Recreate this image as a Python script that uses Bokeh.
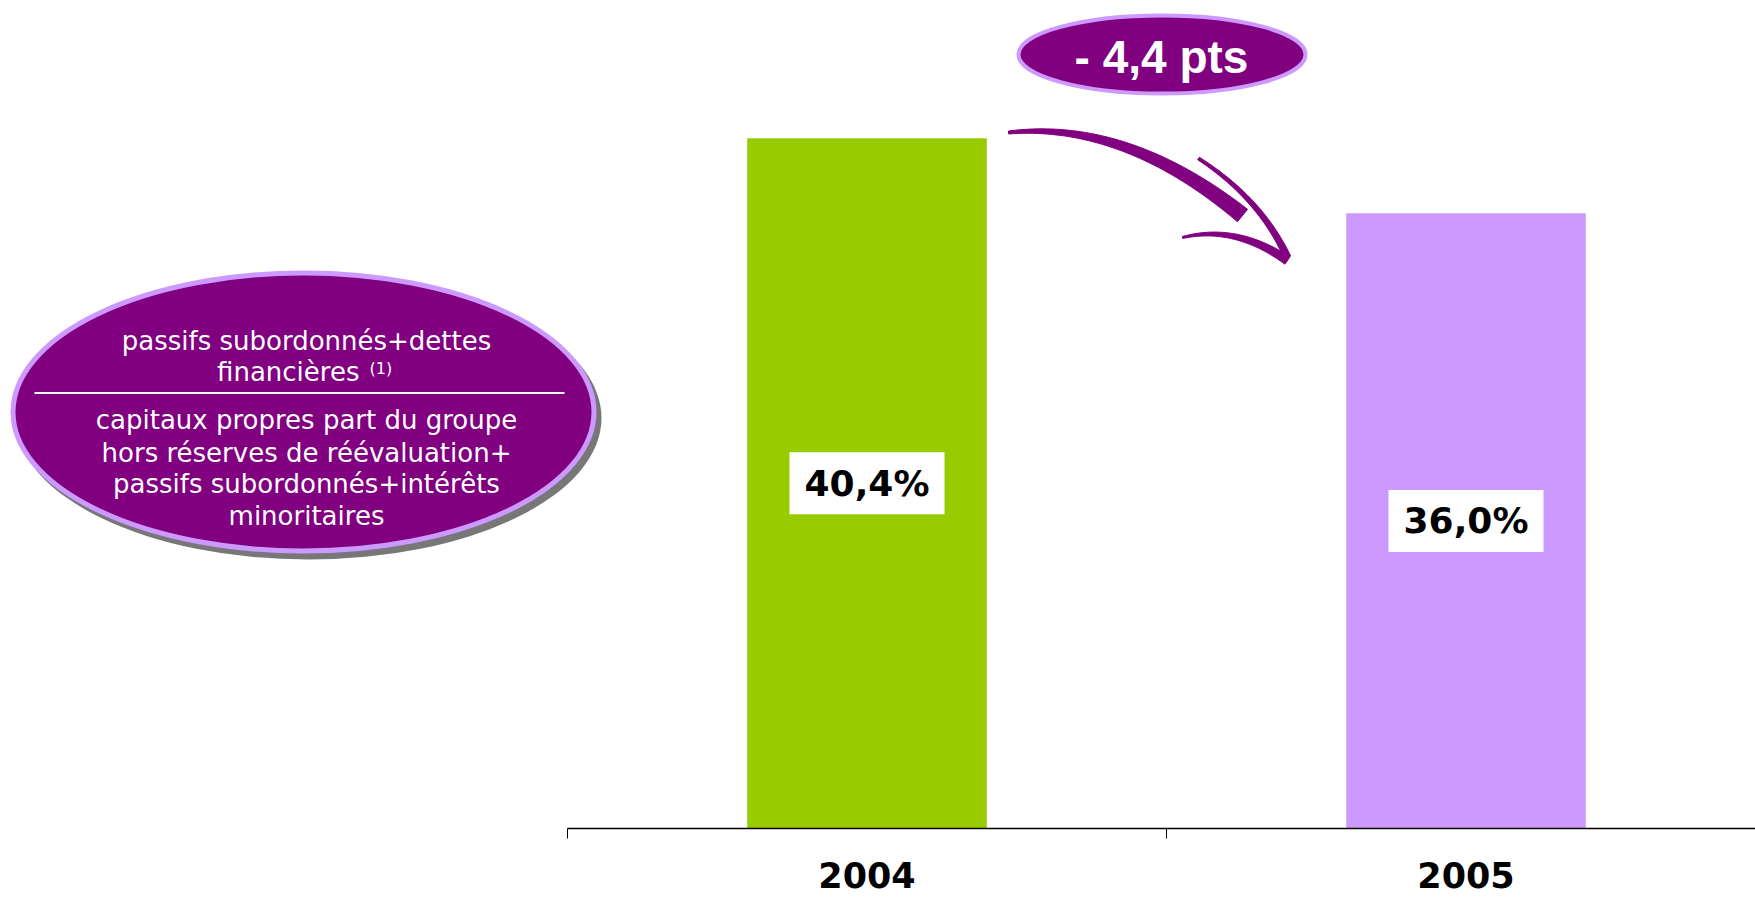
import numpy as np
from bokeh.plotting import figure
from bokeh.models import Range1d, FixedTicker
from bokeh.core.properties import value
from bokeh.embed import file_html
from bokeh.resources import INLINE

# ---------------- data ----------------
years = ["2004", "2005"]
ratios = [40.4, 36.0]
bar_colors = ["#99CC00", "#CC99FF"]
ratio_labels = [f"{v:.1f}%".replace(".", ",") for v in ratios]
change = ratios[1] - ratios[0]
change_label = "- " + f"{abs(change):.1f}".replace(".", ",") + " pts"
numerator_lines = ["passifs subordonnés+dettes", "financières"]
numerator_note = "(1)"
denominator_lines = ["capitaux propres part du groupe",
                     "hors réserves de réévaluation+",
                     "passifs subordonnés+intérêts",
                     "minoritaires"]

# ---------------- layout ----------------
W, H = 1755, 897
CAT_PX = 599.0    # px per category slot
X0_PX = 567.0     # canvas x of the first category boundary
BASE_PX = 828.0   # canvas y of the zero line
Y_PX = 17.087     # px per percentage point

def X(cx):
    return (cx - X0_PX) / CAT_PX

def Y(cy):
    return (BASE_PX - cy) / Y_PX

PURPLE = "#800080"
LILAC = "#CC99FF"

p = figure(width=W, height=H,
           x_range=Range1d(X(0), X(W)), y_range=Range1d(Y(H), Y(0)),
           y_axis_type=None, toolbar_location=None, output_backend="svg",
           min_border=0, outline_line_color=None)
p.xgrid.visible = False
p.background_fill_color = "white"

# ---------------- bars ----------------
xs = [i + 0.5 for i in range(len(years))]
p.vbar(x=xs, top=ratios, bottom=0, width=0.4, fill_color=bar_colors, line_color=None)

mids = [v / 2 for v in ratios]
p.rect(x=xs, y=mids, width=155, height=62, width_units="screen", height_units="screen",
       fill_color="white", line_color=None)
p.text(x=xs, y=mids, text=ratio_labels, text_align="center", text_baseline="middle",
       text_font=value("DejaVu Sans"), text_font_style="bold", text_font_size="36px",
       text_color="black")

# ---------------- axis ----------------
ax = p.xaxis[0]
ax.ticker = FixedTicker(ticks=xs, minor_ticks=list(range(len(years) + 1)))
ax.major_label_overrides = {x: y for x, y in zip(xs, years)}
ax.fixed_location = 0
ax.bounds = (0, len(years))
ax.major_tick_out = 0
ax.major_tick_in = 0
ax.minor_tick_out = 10
ax.minor_tick_in = 0
ax.minor_tick_line_color = "black"
ax.minor_tick_line_width = 1
ax.axis_line_color = "black"
ax.axis_line_width = 1.5
ax.major_label_text_font = "DejaVu Sans"
ax.major_label_text_font_style = "bold"
ax.major_label_text_font_size = "35px"
ax.major_label_text_color = "black"
ax.major_label_standoff = 23

# ---------------- change bubble ----------------
p.ellipse(x=[X(1161.5)], y=[Y(54)], width=287 / CAT_PX, height=78 / Y_PX,
          fill_color=PURPLE, line_color=LILAC, line_width=4)
p.text(x=[X(1161)], y=[Y(56)], text=[change_label], text_align="center",
       text_baseline="middle", text_font=value("Liberation Sans"),
       text_font_style="bold", text_font_size="46px", text_color="white")

# ---------------- arrow ----------------
def taper(p0, p1, p2, w0, w1, n=50):
    t = np.linspace(0, 1, n)[:, None]
    p0, p1, p2 = map(np.array, (p0, p1, p2))
    pts = (1 - t) ** 2 * p0 + 2 * (1 - t) * t * p1 + t ** 2 * p2
    d = 2 * (1 - t) * (p1 - p0) + 2 * t * (p2 - p1)
    d = d / np.linalg.norm(d, axis=1, keepdims=True)
    nrm = np.column_stack([-d[:, 1], d[:, 0]])
    w = (w0 + (w1 - w0) * t[:, 0])[:, None] / 2
    poly = np.vstack([pts + nrm * w, (pts - nrm * w)[::-1]])
    return [X(v) for v in poly[:, 0]], [Y(v) for v in poly[:, 1]]

strokes = [
    ((1008, 132), (1125, 120), (1242, 215), 3, 16),
    ((1198, 158), (1260, 198), (1287, 257), 3, 7),
    ((1182, 237), (1235, 224), (1287, 260), 2, 9),
]
axs, ays = [], []
for s in strokes:
    a, b = taper(*s)
    axs.append(a)
    ays.append(b)
p.patches(axs, ays, fill_color=PURPLE, line_color=PURPLE, line_width=1)

# ---------------- ratio definition bubble ----------------
p.ellipse(x=[X(308)], y=[Y(417.5)], width=586 / CAT_PX, height=283 / Y_PX,
          fill_color="#777777", line_color=None)
p.ellipse(x=[X(303)], y=[Y(411.5)], width=581 / CAT_PX, height=278 / Y_PX,
          fill_color=PURPLE, line_color=LILAC, line_width=5)

TXT = dict(text_font=value("DejaVu Sans"), text_font_size="26px", text_color="white",
           text_baseline="middle")
p.text(x=[X(306)], y=[Y(340.5)], text=[numerator_lines[0]], text_align="center", **TXT)
p.text(x=[X(359)], y=[Y(371)], text=[numerator_lines[1]], text_align="right", **TXT)
p.text(x=[X(369)], y=[Y(367.5)], text=[numerator_note], text_align="left",
       text_font=value("DejaVu Sans"), text_font_size="16px", text_color="white",
       text_baseline="middle")
p.segment(x0=[X(34)], y0=[Y(392.5)], x1=[X(564)], y1=[Y(392.5)],
          line_color="white", line_width=2)
den_mid = [419, 452, 483, 515]
p.text(x=[X(306)] * len(denominator_lines), y=[Y(b) for b in den_mid],
       text=denominator_lines, text_align="center", **TXT)

open("out.html", "w").write(file_html(p, INLINE))
